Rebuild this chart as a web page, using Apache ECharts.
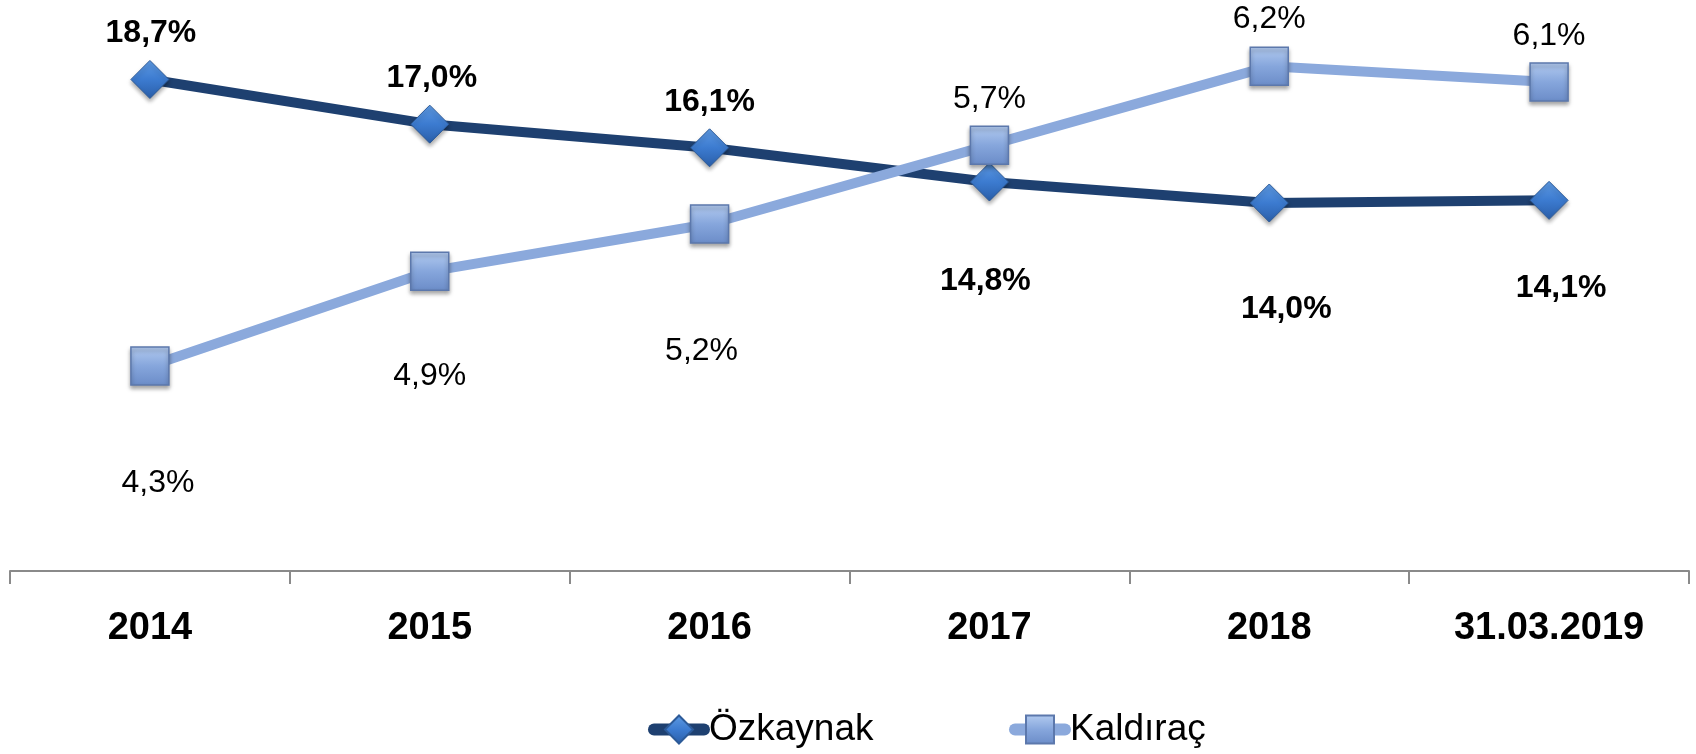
<!DOCTYPE html>
<html>
<head>
<meta charset="utf-8">
<script src="https://cdn.jsdelivr.net/npm/echarts@6/dist/echarts.min.js"></script>
<style>
  html, body { margin: 0; padding: 0; background: #fff; }
  #chart { width: 1696px; height: 754px; }
</style>
</head>
<body>
<div id="chart"></div>
<script>
const categories = ['2014', '2015', '2016', '2017', '2018', '31.03.2019'];
const ozkaynak = [18.7, 17.0, 16.1, 14.8, 14.0, 14.1];
const kaldirac = [4.3, 4.9, 5.2, 5.7, 6.2, 6.1];

// label offsets from each point (px), as placed in the original
const ozkaynakLabelOffsets = [[1, -46], [2, -46], [0, -46], [-4, 99], [17, 106], [12, 88]];
const kaldiracLabelOffsets = [[8, 117], [0, 105], [-8, 127], [0, -46], [0, -47], [0, -46]];

const font = "'Liberation Sans', Arial, sans-serif";
const colors = {
  navy: '#1E4070',
  light: '#8BA9DC',
  axis: '#8A8A8A',
  text: '#000000'
};

const chart = echarts.init(document.getElementById('chart'));

const fmt = (v) => v.toFixed(1).replace('.', ',') + '%';

const diamondFill = new echarts.graphic.LinearGradient(0, 0, 0, 1, [
  { offset: 0, color: '#5F9BE3' },
  { offset: 0.5, color: '#3C7BD0' },
  { offset: 1, color: '#2A5EA8' }
]);
const squareFill = new echarts.graphic.LinearGradient(0, 0, 0, 1, [
  { offset: 0, color: '#B3CBF0' },
  { offset: 0.5, color: '#86A6DC' },
  { offset: 1, color: '#6B8CC8' }
]);

const buildData = (values, offsets, bold) => values.map((v, i) => ({
  value: v,
  label: {
    show: true,
    position: 'inside',
    offset: offsets[i],
    formatter: () => fmt(v),
    fontFamily: font,
    fontSize: 32,
    fontWeight: bold ? 'bold' : 'normal',
    color: colors.text
  }
}));

const legendBase = {
  top: 711,
  padding: 0,
  itemWidth: 50,
  itemHeight: 35,
  textStyle: { fontFamily: font, fontSize: 37, color: colors.text },
  lineStyle: { width: 12, cap: 'round' }
};

chart.setOption({
  animation: false,
  grid: { left: 10, right: 7, top: 19, bottom: 183 },
  legend: [
    Object.assign({}, legendBase, { left: 648, data: ['Özkaynak'] }),
    Object.assign({}, legendBase, { left: 1009, data: ['Kaldıraç'] })
  ],
  xAxis: {
    type: 'category',
    data: categories,
    boundaryGap: true,
    axisLine: { lineStyle: { color: colors.axis, width: 2 } },
    axisTick: { show: true, length: 13, lineStyle: { color: colors.axis, width: 2 } },
    axisLabel: { fontFamily: font, fontSize: 38, fontWeight: 'bold', color: colors.text, margin: 39 },
    splitLine: { show: false }
  },
  yAxis: [
    { type: 'value', min: 0, max: 21, show: false, splitLine: { show: false } },
    { type: 'value', min: 3, max: 6.5, show: false, splitLine: { show: false } }
  ],
  series: [
    {
      name: 'Özkaynak',
      type: 'line',
      yAxisIndex: 0,
      data: buildData(ozkaynak, ozkaynakLabelOffsets, true),
      lineStyle: { color: colors.navy, width: 10 },
      symbol: 'diamond',
      symbolSize: 38,
      itemStyle: {
        color: diamondFill,
        borderColor: '#2C5A98',
        borderWidth: 1,
        shadowBlur: 4,
        shadowColor: 'rgba(0,0,0,0.35)',
        shadowOffsetY: 3
      },
      z: 2
    },
    {
      name: 'Kaldıraç',
      type: 'line',
      yAxisIndex: 1,
      data: buildData(kaldirac, kaldiracLabelOffsets, false),
      lineStyle: { color: colors.light, width: 10 },
      symbol: 'rect',
      symbolSize: 38,
      itemStyle: {
        color: squareFill,
        borderColor: '#5C78AC',
        borderWidth: 1.5,
        shadowBlur: 4,
        shadowColor: 'rgba(0,0,0,0.35)',
        shadowOffsetY: 3
      },
      z: 3
    }
  ]
});

window.addEventListener('resize', () => chart.resize());
</script>
</body>
</html>
